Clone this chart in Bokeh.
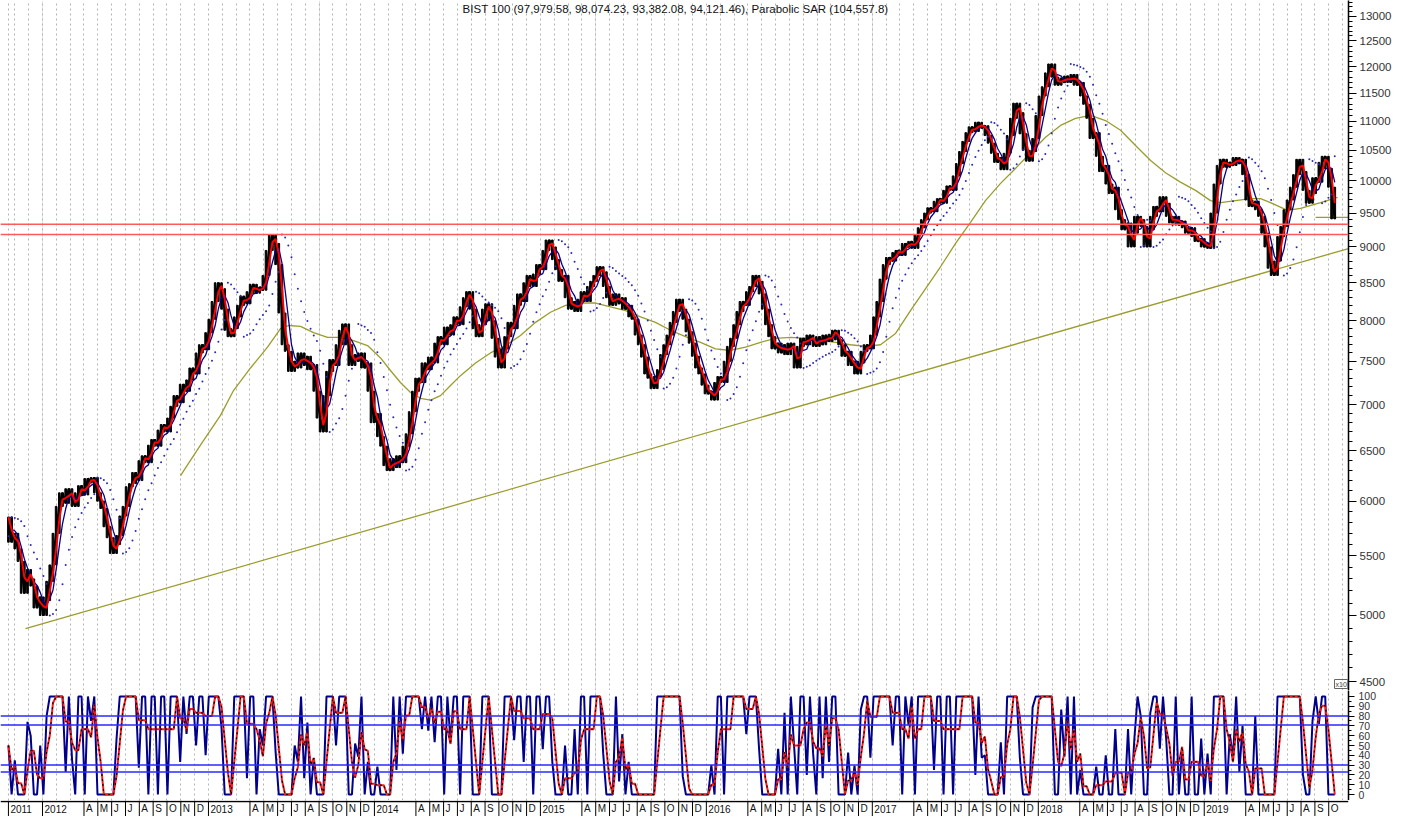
import numpy as np
import pandas as pd
from bokeh.plotting import figure
from bokeh.layouts import column
from bokeh.models import Range1d, FixedTicker, PrintfTickFormatter, Grid, Label, Span
from bokeh.core.properties import value
from bokeh.embed import file_html
from bokeh.resources import INLINE

# ---------------- data ----------------
start_date = "2011-10-18"          # first weekly bar
close_2011 = [5850, 5620, 5700, 5560, 5450, 5180, 5380, 5300, 5240, 5060, 5150]
close_2012 = [5000, 5120, 5280, 5420, 5700, 5950, 6080, 5980, 6120,
              6030, 5950, 6080, 6150, 6060, 6220, 6180, 6230, 6080, 6000,
              5930, 5760, 5660, 5520, 5600, 5680, 5860, 5950, 6140, 6170,
              6280, 6200, 6400, 6450, 6380, 6560, 6620, 6550, 6720, 6780,
              6700, 6850, 6980, 7100, 7020, 7230, 7150, 7280, 7420, 7350,
              7600, 7700, 7640]
close_2013 = [7850, 8020, 8250, 8500, 8420, 8150, 7880,
              7800, 7900, 8050, 8200, 8320, 8220, 8380, 8480, 8360, 8440,
              8400, 8600, 8950, 9180, 9050, 8750, 8100, 7700, 7620, 7380,
              7500, 7420, 7600, 7450, 7560, 7400, 7460, 7150, 6850, 6700,
              7100, 7380, 7520, 7450, 7700, 7880, 7960, 7700, 7450, 7580,
              7500, 7600, 7420, 7480, 7150]
close_2014 = [6800, 6900, 6650, 6550, 6350,
              6300, 6420, 6330, 6450, 6380, 6550, 6680, 6920, 7150, 7300,
              7250, 7480, 7400, 7550, 7480, 7720, 7800, 7700, 7920, 7820,
              7950, 8050, 7950, 8180, 8300, 8380, 8150, 7900, 7800, 7950,
              8150, 8220, 8000, 7780, 7550, 7420, 7650, 7800, 7980, 7900,
              8200, 8350, 8250, 8500, 8600, 8450, 8620]
close_2015 = [8750, 8680, 8950,
              9100, 9000, 8820, 8680, 8520, 8600, 8300, 8150, 8250, 8120,
              8280, 8380, 8250, 8450, 8520, 8600, 8720, 8650, 8450, 8300,
              8200, 8350, 8220, 8300, 8150, 8200, 8050, 8020, 7820, 7700,
              7550, 7350, 7300, 7180, 7320, 7400, 7580, 7700, 7820, 7980,
              8120, 8280, 8150, 8020, 7860, 7720, 7560, 7420, 7350, 7220]
close_2016 = [7120, 7150, 7050, 7250, 7320, 7250, 7500, 7680, 7780, 7950,
              8120, 8250, 8200, 8380, 8450, 8600, 8520, 8350, 8150, 7950,
              7800, 7650, 7720, 7600, 7700, 7580, 7720, 7650, 7420, 7680,
              7780, 7700, 7820, 7750, 7680, 7800, 7700, 7820, 7740, 7830,
              7880, 7760, 7700, 7560, 7620, 7450, 7500, 7350, 7480, 7620,
              7700, 7650]
close_2017 = [7820, 8050, 8250, 8550, 8750, 8850, 8800, 8920,
              8950, 8880, 9050, 9000, 9080, 8980, 9180, 9280, 9400, 9500,
              9580, 9520, 9680, 9720, 9650, 9850, 9920, 9850, 10080, 10280,
              10480, 10650, 10800, 10900, 10820, 10980, 10880, 10920, 10750, 10620,
              10450, 10300, 10380, 10180, 10450, 10750, 11050, 11320, 11150, 10780,
              10500, 10320, 10480, 10700]
close_2018 = [11100, 11450, 11620, 11880, 12050, 11800,
              11650, 11780, 11700, 11820, 11700, 11850, 11650, 11700, 11450, 11300,
              11050, 10700, 10800, 10400, 10150, 10250, 9950, 9800, 9900, 9550,
              9400, 9250, 9350, 9000, 9200, 9450, 9400, 9300, 9000, 9250,
              9450, 9600, 9520, 9750, 9650, 9450, 9350, 9450, 9320, 9380,
              9280, 9200, 9280, 9150, 9080, 9120]
close_2019 = [9000, 9050, 8980, 9500,
              9950, 10250, 10350, 10220, 10300, 10250, 10380, 10280, 10350, 10100,
              9700, 9600, 9680, 9550, 9450, 9200, 9000, 8700, 8600, 8800,
              9150, 9300, 9550, 9700, 9900, 10100, 10350, 10150, 9850, 9650,
              9800, 10050, 9980, 10300, 10400, 10200, 9900, 9412]

# long moving average (olive): months since Jan 2012 / value
ma_t = [9.98, 11.42, 12.87, 13.81, 15.04, 16.27, 17.21, 17.79, 18.66, 19.60,
        20.61, 21.55, 22.49, 23.50, 24.44, 25.16, 25.88, 26.61, 27.33, 28.06,
        28.78, 29.50, 30.22, 31.31, 32.39, 33.48, 34.56, 35.65, 36.73, 37.82,
        38.90, 39.99, 41.07, 42.16, 43.24, 44.32, 45.41, 46.49, 47.58, 48.66,
        49.75, 50.83, 51.92, 53.00, 54.09, 55.17, 56.25, 57.34, 58.42, 59.51,
        60.59, 61.68, 62.76, 63.85, 64.93, 66.02, 67.10, 68.18, 69.27, 70.35,
        71.44, 72.52, 73.61, 74.69, 75.78, 76.86, 77.95, 79.03, 80.12, 81.20,
        82.28, 83.37, 84.45, 85.18, 86.26, 87.35, 88.07, 88.79, 90.02, 90.96,
        92.41, 93.64]
ma_v = [6250, 6560, 6880, 7158, 7420, 7670, 7900, 7940, 7930, 7850,
        7790, 7790, 7750, 7690, 7540, 7390, 7250, 7135, 7070, 7050,
        7100, 7215, 7330, 7480, 7600, 7690, 7815, 7980, 8110, 8200,
        8230, 8230, 8180, 8130, 8050, 7980, 7880, 7800, 7730, 7650,
        7630, 7670, 7730, 7780, 7790, 7780, 7750, 7730, 7700, 7680,
        7700, 7840, 8130, 8420, 8720, 9050, 9360, 9690, 9960, 10200,
        10460, 10720, 10925, 11050, 11100, 11010, 10840, 10580, 10330, 10130,
        9980, 9850, 9690, 9660, 9690, 9720, 9720, 9660, 9540, 9570,
        9660, 9740]

trend_t = [-1.23, 94.43]
trend_v = [4897, 8977]
flat_t = [92.05, 94.43]
flat_v = [9434, 9434]
res_levels = [9330, 9180]
stoch_levels = [80, 71, 30, 23]

price_ticks = [4500, 5000, 5500, 6000, 6500, 7000, 7500, 8000, 8500, 9000, 9500,
               10000, 10500, 11000, 11500, 12000, 12500, 13000]
stoch_ticks = [0, 10, 20, 30, 40, 50, 60, 70, 80, 90, 100]
year_labels = ["2012", "2013", "2014", "2015", "2016", "2017", "2018", "2019"]
month_letters = ["A", "M", "J", "J", "A", "S", "O", "N", "D"]   # Apr..Dec
first_label = "2011"
last_month = 93                                                   # Oct 2019
title_text = "BIST 100 (97,979.58, 98,074.23, 93,382.08, 94,121.46), Parabolic SAR (104,557.8)"

# ---------------- derived series ----------------
close = np.array(close_2011 + close_2012 + close_2013 + close_2014 + close_2015 +
                 close_2016 + close_2017 + close_2018 + close_2019, dtype=float)
dates = pd.date_range(start_date, periods=len(close), freq="7D")
t = np.asarray((dates - pd.Timestamp("2012-01-01")).days, dtype=float) / 30.4375

s = pd.Series(close)
fast = s.rolling(2, min_periods=1).mean().to_numpy()
slow = s.rolling(4, min_periods=1).mean().to_numpy()
bar_top = s.rolling(3, center=True, min_periods=1).max().to_numpy()
bar_bot = s.rolling(3, center=True, min_periods=1).min().to_numpy()


def psar(c, step=0.04, amax=0.2):
    out = np.empty(len(c))
    bull, sar, ep, af = True, c[0] * 0.97, c[0], step
    out[0] = sar
    for i in range(1, len(c)):
        sar = sar + af * (ep - sar)
        if bull:
            if c[i] < sar:
                bull, sar, ep, af = False, ep, c[i], step
            elif c[i] > ep:
                ep, af = c[i], min(af + step, amax)
        else:
            if c[i] > sar:
                bull, sar, ep, af = True, ep, c[i], step
            elif c[i] < ep:
                ep, af = c[i], min(af + step, amax)
        out[i] = sar
    return out


sar = psar(close)

lo = s.rolling(3, min_periods=2).min()
hi = s.rolling(3, min_periods=2).max()
stoch_k = (100 * (s - lo) / (hi - lo)).fillna(50).to_numpy()
stoch_d = pd.Series(stoch_k).rolling(3, min_periods=1).mean().to_numpy()

x_start, x_end = -3.037, 94.43
grid_m = [float(t[0])] + list(range(-2, int(x_end) + 1))
tick_m = [float(t[0])]
tick_labels = [first_label]
for yi, yl in enumerate(year_labels):
    base = 12 * yi
    tick_m.append(base)
    tick_labels.append(yl)
    for j, ml in enumerate(month_letters):
        if base + 3 + j <= last_month:
            tick_m.append(base + 3 + j)
            tick_labels.append(ml)

FONT = "Liberation Sans"
W = 1403
RB = 55
GRID_COLOR = "#b4b4b4"

# ---------------- main price panel ----------------
H1 = 690
p = figure(width=W, height=H1, x_range=Range1d(x_start, x_end),
           y_range=Range1d(4436, 13334), y_axis_type="log",
           y_axis_location="right", x_axis_location=None,
           output_backend="svg", toolbar_location=None,
           min_border_left=0, min_border_right=RB, min_border_top=0,
           min_border_bottom=0, outline_line_color=None,
           background_fill_color="white", border_fill_color="white")
p.ygrid.visible = False
p.add_layout(Grid(dimension=0, ticker=FixedTicker(ticks=grid_m),
                  grid_line_color=GRID_COLOR, grid_line_dash="2 3",
                  grid_line_width=1))
ax = p.yaxis[0]
ax.ticker = FixedTicker(ticks=price_ticks, minor_ticks=list(range(4500, 13400, 100)))
ax.formatter = PrintfTickFormatter(format="%d")
ax.axis_line_color = "black"
ax.axis_line_width = 1.5
ax.major_tick_out = 8
ax.major_tick_in = 0
ax.minor_tick_out = 4
ax.minor_tick_in = 0
ax.major_tick_line_color = "black"
ax.minor_tick_line_color = "black"
ax.major_label_standoff = 3
ax.major_label_text_font = FONT
ax.major_label_text_font_size = "11.5px"
ax.major_label_text_color = "#333333"

for lv in res_levels:
    p.add_layout(Span(location=lv, dimension="width", line_color="#ff5a5a", line_width=1.5))
p.line(trend_t, trend_v, line_color="#9c9c2c", line_width=1.3)
p.line(flat_t, flat_v, line_color="#9c9c2c", line_width=1.3)
p.line(ma_t, ma_v, line_color="#9c9c2c", line_width=1.3)
p.vbar(x=t, top=bar_top, bottom=bar_bot, width=0.12, color="black")
p.line(t, close, line_color="black", line_width=2.5)
p.scatter(t, sar, marker="circle", size=2, fill_color="#2a2ab8", line_color=None)
p.line(t, slow, line_color="#00008b", line_width=1.3)
p.line(t, fast, line_color="#ff0000", line_width=2)
p.add_layout(Label(x=675, y=H1 - 8, x_units="screen", y_units="screen",
                   text=title_text, text_align="center", text_baseline="middle",
                   text_font=FONT, text_font_size="11.5px", text_color="#111111"))
p.add_layout(Label(x=1334, y=2, x_units="screen", y_units="screen", text="x10",
                   text_font=FONT, text_font_size="7px", text_color="#444444",
                   border_line_color="#666666", border_line_width=1,
                   text_baseline="bottom", padding=1))

# ---------------- stochastic panel ----------------
ps = figure(width=W, height=110, x_range=p.x_range, y_range=Range1d(-6.1, 106.1),
            y_axis_location="right", x_axis_location=None,
            output_backend="svg", toolbar_location=None,
            min_border_left=0, min_border_right=RB, min_border_top=0,
            min_border_bottom=0, outline_line_color=None)
ps.ygrid.visible = False
ps.add_layout(Grid(dimension=0, ticker=FixedTicker(ticks=grid_m),
                   grid_line_color=GRID_COLOR, grid_line_dash="2 3",
                   grid_line_width=1))
sax = ps.yaxis[0]
sax.ticker = FixedTicker(ticks=stoch_ticks, minor_ticks=list(range(0, 105, 5)))
sax.axis_line_color = "black"
sax.axis_line_width = 1.5
sax.major_tick_out = 6
sax.major_tick_in = 0
sax.minor_tick_out = 3
sax.minor_tick_in = 0
sax.major_label_standoff = 4
sax.major_label_text_font = FONT
sax.major_label_text_font_size = "10.5px"
sax.major_label_text_color = "#333333"
for lv in stoch_levels:
    ps.add_layout(Span(location=lv, dimension="width", line_color="#2a2aff", line_width=1.5))
ps.line(t, stoch_k, line_color="#00008b", line_width=2)
ps.line(t, stoch_d, line_color="#ff1a1a", line_width=2)
ps.line(t, stoch_d, line_color="black", line_width=1.2, line_dash="2 3")

# ---------------- month label row ----------------
pl = figure(width=W, height=16, x_range=p.x_range, y_range=Range1d(0, 1.06),
            x_axis_location=None, y_axis_location=None,
            output_backend="svg", toolbar_location=None,
            min_border_left=0, min_border_right=RB, min_border_top=0,
            min_border_bottom=0, outline_line_color=None)
pl.xgrid.visible = False
pl.ygrid.visible = False
pl.add_layout(Span(location=1.0, dimension="width", line_color="black", line_width=1.5))
pl.segment(x0=tick_m, x1=tick_m, y0=[0] * len(tick_m), y1=[1.06] * len(tick_m),
           line_color="black", line_width=1)
pl.text(x=tick_m, y=[0.5] * len(tick_m), text=tick_labels, x_offset=2,
        text_align="left", text_baseline="middle", text_font=value(FONT),
        text_font_size="10px", text_color="#111111")

layout = column(p, ps, pl, spacing=0)
open("out.html", "w").write(file_html(layout, INLINE))
